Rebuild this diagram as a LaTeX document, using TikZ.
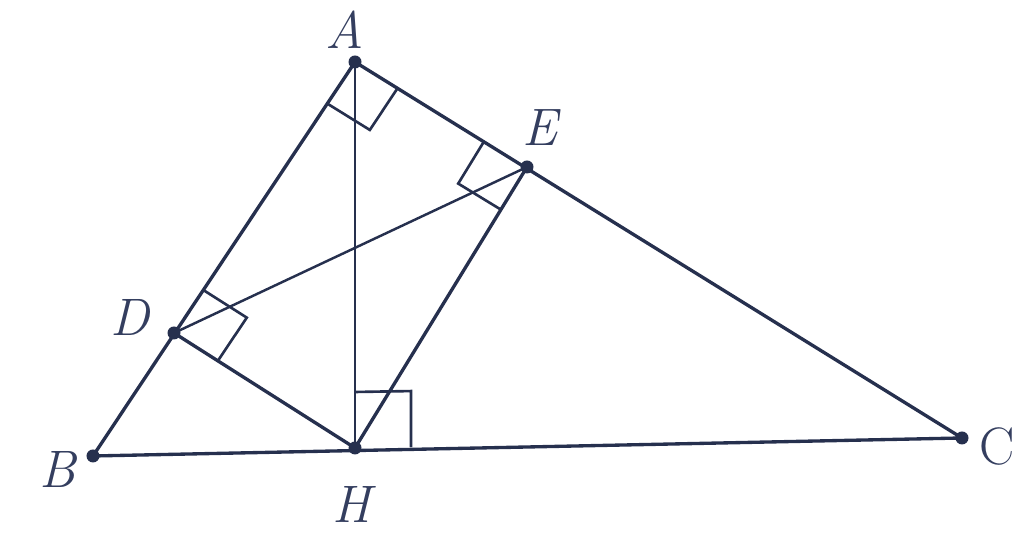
\documentclass[tikz,border=0pt]{standalone}
\usetikzlibrary{calc}
\definecolor{ink}{RGB}{38,48,78}
\definecolor{txt}{RGB}{52,62,95}
\tikzset{
  seg/.style={draw=ink, line width=0.95pt, line cap=round, line join=round},
  thinseg/.style={draw=ink, line width=0.7pt, line cap=round},
  rtmark/.style={draw=ink, line width=0.75pt},
  pt/.style={circle, fill=ink, inner sep=0pt, minimum size=1.3mm},
  lbl/.style={text=txt, font=\fontsize{15}{17}\selectfont\itshape, inner sep=0pt}
}
\begin{document}
\begin{tikzpicture}
\useasboundingbox (0,0) rectangle (10.24,5.35);
\coordinate (A) at (3.55,4.73);
\coordinate (B) at (0.93,0.79);
\coordinate (C) at (9.62,0.97);
\coordinate (H) at (3.55,0.87);
\coordinate (D) at (1.74,2.02);
\coordinate (E) at (5.27,3.68);
% right-angle marks
\newcommand{\rmark}[4]{% vertex, p, q, size
  \draw[rtmark] ($(#1)!#4!(#2)$) -- ($($(#1)!#4!(#2)$)+($(#1)!#4!(#3)$)-(#1)$) -- ($(#1)!#4!(#3)$);}
\rmark{A}{B}{C}{0.5cm}
\rmark{E}{A}{H}{0.5cm}
\rmark{D}{A}{H}{0.52cm}
\rmark{H}{A}{C}{0.56cm}
% sides and segments
\draw[seg] (A) -- (B) -- (C) -- cycle;
\draw[thinseg] (A) -- (H);
\draw[seg] (D) -- (H) -- (E);
\draw[thinseg] (D) -- (E);
% points
\foreach \p in {A,B,C,H,D,E} \node[pt] at (\p) {};
% labels
\node[lbl] (lA) at (3.45,5.05) {A};
\node[lbl] (lE) at (5.40,4.07) {E};
\node[lbl] (lD) at (1.30,2.17) {D};
\node[lbl] (lB) at (0.58,0.65) {B};
\node[lbl, font=\fontsize{15}{17}\selectfont\upshape] (lC) at (9.97,0.88) {C};
\node[lbl] (lH) at (3.52,0.30) {H};
\end{tikzpicture}
\end{document}
